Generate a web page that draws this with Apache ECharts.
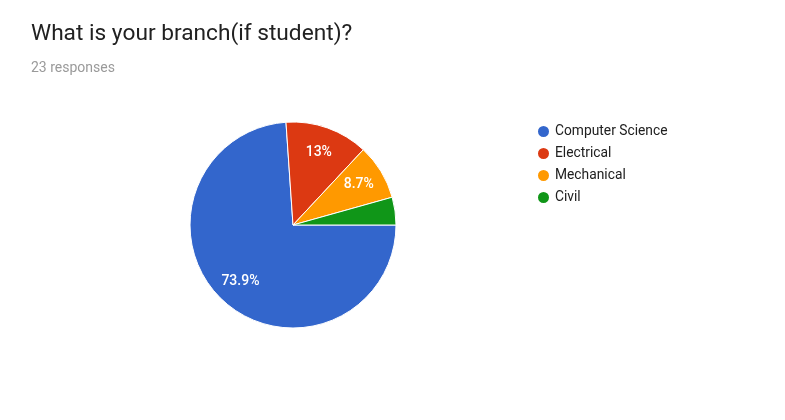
<!DOCTYPE html>
<html>
<head>
<meta charset="utf-8">
<style>
  html, body { margin: 0; padding: 0; background: #fff; }
  #chart { width: 785px; height: 420px; }
</style>
<script src="https://cdn.jsdelivr.net/npm/echarts@6/dist/echarts.min.js"></script>
</head>
<body>
<div id="chart"></div>
<script>
const titleText = 'What is your branch(if student)?'
const subText = '23 responses'
const branches = ['Computer Science', 'Electrical', 'Mechanical', 'Civil']
const counts = [17, 3, 2, 1]
const colors = ['#3366cc', '#dc3912', '#ff9900', '#109618']

const total = counts.reduce((a, b) => a + b, 0)
const pieData = branches.map((name, i) => ({ name: name, value: counts[i] }))

// google style: 3 significant digits, small slices get no label
function pctLabel (p) {
  const v = p.value / total * 100
  if (v < 5) return ''
  return parseFloat(v.toPrecision(3)) + '%'
}

const chart = echarts.init(document.getElementById('chart'))
chart.setOption({
  animation: false,
  color: colors,
  textStyle: { fontFamily: 'Roboto' },
  title: [
    { text: titleText, left: 26, top: 18, textStyle: { fontSize: 22.7, fontWeight: 'normal', color: '#212121', fontFamily: 'Roboto' } },
    { text: subText, left: 26, top: 56, textStyle: { fontSize: 14, fontWeight: 'normal', color: '#9a9a9a', fontFamily: 'Roboto' } }
  ],
  legend: {
    orient: 'vertical',
    left: 531,
    top: 119,
    data: branches,
    icon: 'circle',
    itemWidth: 13,
    itemHeight: 13,
    itemGap: 7,
    textStyle: { fontSize: 13.8, color: '#202020', fontFamily: 'Roboto' }
  },
  series: [
    {
      type: 'pie',
      center: [293, 225],
      radius: [0, 103],
      startAngle: 0,
      clockwise: true,
      data: pieData,
      itemStyle: { borderColor: '#fff', borderWidth: 1 },
      label: { show: false },
      labelLine: { show: false },
      emphasis: { disabled: true }
    },
    {
      // labels only, pushed out to ~0.72 of the radius
      type: 'pie',
      center: [293, 225],
      radius: [45, 103],
      startAngle: 0,
      clockwise: true,
      silent: true,
      data: pieData,
      itemStyle: { color: 'rgba(0,0,0,0)' },
      label: {
        show: true,
        position: 'inside',
        formatter: pctLabel,
        color: '#fff',
        fontSize: 14,
        fontWeight: 500,
        fontFamily: 'Roboto'
      },
      labelLine: { show: false },
      emphasis: { disabled: true }
    }
  ]
})
</script>
</body>
</html>
